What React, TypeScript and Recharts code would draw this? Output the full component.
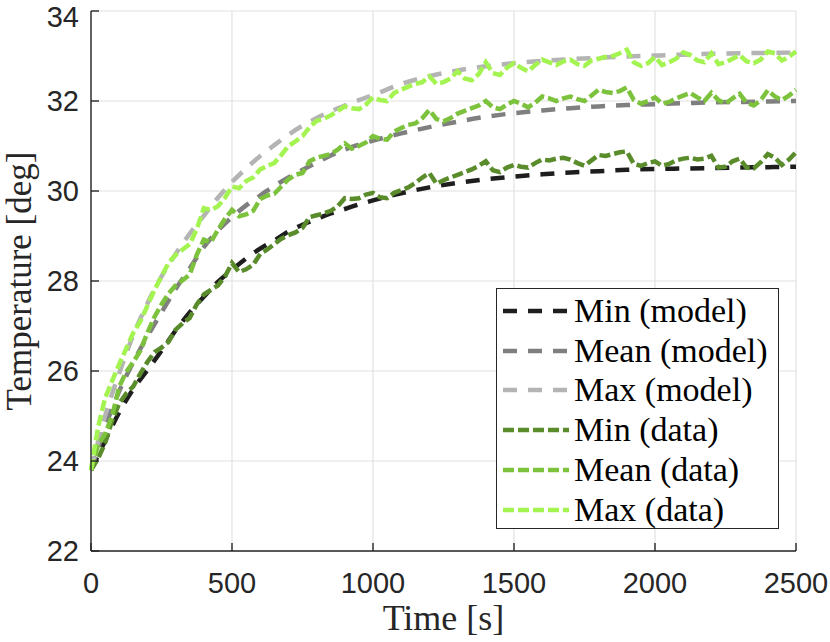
import { CartesianGrid, Label, Legend, Line, LineChart, XAxis, YAxis } from "recharts"

// model curves (smooth), sampled coarser
const modelTime = [0, 50, 100, 150, 200, 250, 300, 350, 400, 450, 500, 550, 600, 650, 700, 750, 800, 850, 900, 950, 1000,
  1100, 1200, 1300, 1400, 1500, 1600, 1700, 1800, 1900, 2000, 2100, 2200, 2300, 2400, 2500]
const minModel = [23.8, 24.45, 25.08, 25.6, 26.02, 26.45, 26.9, 27.3, 27.65, 27.98, 28.25, 28.5, 28.72, 28.9, 29.1, 29.25, 29.38, 29.5, 29.6, 29.7, 29.79,
  29.95, 30.08, 30.18, 30.26, 30.32, 30.37, 30.41, 30.44, 30.47, 30.49, 30.5, 30.51, 30.52, 30.53, 30.54]
const meanModel = [23.8, 24.75, 25.55, 26.2, 26.77, 27.3, 27.82, 28.28, 28.75, 29.12, 29.42, 29.68, 29.9, 30.11, 30.3, 30.47, 30.63, 30.79, 30.92, 31.03, 31.12,
  31.28, 31.42, 31.54, 31.65, 31.73, 31.79, 31.84, 31.88, 31.91, 31.93, 31.95, 31.97, 31.98, 31.99, 32.0]
const maxModel = [23.8, 25.0, 25.95, 26.8, 27.5, 28.1, 28.6, 29.05, 29.45, 29.85, 30.2, 30.5, 30.78, 31.02, 31.25, 31.45, 31.62, 31.77, 31.9, 32.02, 32.13,
  32.38, 32.55, 32.68, 32.77, 32.84, 32.89, 32.93, 32.96, 32.99, 33.01, 33.03, 33.05, 33.06, 33.07, 33.08]

// measured data, every 25 s
const dataTime = [0, 25, 50, 75, 100, 125, 150, 175, 200, 225, 250, 275, 300, 325, 350, 375, 400, 425, 450, 475,
  500, 525, 550, 575, 600, 625, 650, 675, 700, 725, 750, 775, 800, 825, 850, 875, 900, 925, 950, 975,
  1000, 1025, 1050, 1075, 1100, 1125, 1150, 1175, 1200, 1225, 1250, 1275, 1300, 1325, 1350, 1375, 1400, 1425, 1450, 1475,
  1500, 1525, 1550, 1575, 1600, 1625, 1650, 1675, 1700, 1725, 1750, 1775, 1800, 1825, 1850, 1875, 1900, 1925, 1950, 1975,
  2000, 2025, 2050, 2075, 2100, 2125, 2150, 2175, 2200, 2225, 2250, 2275, 2300, 2325, 2350, 2375, 2400, 2425, 2450, 2475, 2500]
const minData = [23.8, 24.05, 24.4, 24.9, 25.28, 25.5, 25.66, 25.94, 26.2, 26.42, 26.52, 26.65, 26.92, 27.06, 27.18, 27.48, 27.7, 27.8, 27.9, 28.1,
  28.4, 28.2, 28.26, 28.36, 28.6, 28.7, 28.82, 28.94, 29.02, 29.08, 29.18, 29.42, 29.46, 29.5, 29.56, 29.66, 29.84, 29.82, 29.84, 29.92,
  29.96, 29.86, 29.84, 29.96, 30.02, 30.08, 30.18, 30.3, 30.4, 30.16, 30.24, 30.3, 30.36, 30.42, 30.48, 30.56, 30.66, 30.46, 30.42, 30.52,
  30.58, 30.54, 30.52, 30.62, 30.7, 30.68, 30.72, 30.74, 30.7, 30.62, 30.56, 30.68, 30.8, 30.78, 30.82, 30.86, 30.88, 30.6, 30.56, 30.62,
  30.66, 30.56, 30.6, 30.68, 30.72, 30.74, 30.7, 30.72, 30.78, 30.52, 30.54, 30.66, 30.72, 30.52, 30.5, 30.64, 30.82, 30.74, 30.58, 30.7, 30.86]
const meanData = [23.8, 24.35, 24.6, 25.0, 25.65, 25.98, 26.2, 26.45, 26.85, 27.2, 27.48, 27.72, 27.9, 28.02, 28.14, 28.58, 28.92, 28.86, 29.14, 29.38,
  29.58, 29.44, 29.48, 29.56, 29.82, 29.9, 29.94, 30.1, 30.26, 30.36, 30.4, 30.66, 30.74, 30.78, 30.82, 30.92, 31.06, 30.94, 31.0, 31.08,
  31.22, 31.16, 31.14, 31.32, 31.4, 31.47, 31.5, 31.62, 31.8, 31.6, 31.55, 31.62, 31.72, 31.78, 31.84, 31.9, 32.0, 31.86, 31.82, 31.92,
  32.0, 31.94, 31.86, 31.96, 32.1, 32.06, 32.0, 32.06, 32.1, 32.04, 32.0, 32.12, 32.25, 32.2, 32.18, 32.22, 32.3, 32.02, 31.94, 32.0,
  32.08, 31.94, 31.98, 32.06, 32.12, 32.18, 32.08, 32.0, 32.18, 32.02, 31.94, 32.06, 32.16, 31.96, 31.9, 32.02, 32.24, 32.1, 32.02, 32.12, 32.25]
const maxData = [23.8, 24.75, 25.4, 25.78, 26.15, 26.5, 26.85, 27.1, 27.45, 27.8, 28.1, 28.4, 28.58, 28.7, 28.82, 29.15, 29.62, 29.58, 29.66, 29.85,
  30.1, 30.06, 30.22, 30.3, 30.48, 30.56, 30.62, 30.8, 31.0, 31.1, 31.22, 31.42, 31.56, 31.6, 31.68, 31.78, 31.88, 31.84, 31.82, 31.92,
  32.08, 32.02, 32.0, 32.18, 32.25, 32.32, 32.38, 32.42, 32.55, 32.38, 32.42, 32.5, 32.66, 32.5, 32.46, 32.6, 32.86, 32.62, 32.58, 32.74,
  32.84, 32.74, 32.66, 32.8, 32.92, 32.86, 32.8, 32.88, 32.92, 32.82, 32.78, 32.9, 32.94, 32.98, 33.0, 33.06, 33.14, 32.86, 32.78, 32.84,
  32.98, 32.8, 32.86, 32.94, 33.08, 33.02, 32.9, 32.86, 33.06, 32.82, 32.86, 32.94, 33.02, 32.88, 32.84, 32.92, 33.1, 33.06, 32.9, 32.98, 33.1]

const xTicks = [0, 500, 1000, 1500, 2000, 2500]
const yTicks = [22, 24, 26, 28, 30, 32, 34]

const modelRows = modelTime.map((t, i) => ({ t, minModel: minModel[i], meanModel: meanModel[i], maxModel: maxModel[i] }))
const dataRows = dataTime.map((t, i) => ({ t, minData: minData[i], meanData: meanData[i], maxData: maxData[i] }))

const MODEL_DASH = "14 11"
const DATA_DASH = "11 4"

const series = [
  { key: "minModel", name: "Min (model)", color: "#1e1e1e", dash: MODEL_DASH, rows: modelRows, type: "monotone" },
  { key: "meanModel", name: "Mean (model)", color: "#7f7f7f", dash: MODEL_DASH, rows: modelRows, type: "monotone" },
  { key: "maxModel", name: "Max (model)", color: "#b4b4b4", dash: MODEL_DASH, rows: modelRows, type: "monotone" },
  { key: "minData", name: "Min (data)", color: "#5a8c2c", dash: DATA_DASH, rows: dataRows, type: "linear" },
  { key: "meanData", name: "Mean (data)", color: "#7dc23d", dash: DATA_DASH, rows: dataRows, type: "linear" },
  { key: "maxData", name: "Max (data)", color: "#a3f450", dash: DATA_DASH, rows: dataRows, type: "linear" },
] as const

const AXIS = "#262626"
const SANS = "'Liberation Sans', Arial, sans-serif"
const SERIF = "'Liberation Serif', 'Times New Roman', serif"

const LegendBox = () => (
  <div
    style={{
      boxSizing: "border-box",
      width: 283,
      height: 241,
      border: `1.3px solid ${AXIS}`,
      background: "#fff",
      paddingTop: 2,
    }}
  >
    {series.map((s) => (
      <div key={s.key} style={{ height: 39.8, display: "flex", alignItems: "center" }}>
        <svg width={72} height={10} style={{ marginLeft: 5, flex: "none" }}>
          <line x1={1} x2={67} y1={5} y2={5} stroke={s.color} strokeWidth={4.5} strokeDasharray={s.dash} />
        </svg>
        <span style={{ fontFamily: SERIF, fontSize: 34, lineHeight: 1, color: "#000", whiteSpace: "nowrap" }}>
          {s.name}
        </span>
      </div>
    ))}
  </div>
)

const App = () => {
  return (
    <div style={{ position: "absolute", left: 0, top: 0, width: 830, height: 642, background: "#fff" }}>
      <LineChart width={830} height={642} margin={{ top: 11, right: 34, bottom: 0, left: 0 }}>
        <CartesianGrid stroke="#e2e2e2" strokeWidth={1.2} />
        <XAxis
          type="number"
          dataKey="t"
          domain={[0, 2500]}
          ticks={xTicks}
          height={91}
          tickSize={-8}
          tickMargin={29}
          stroke={AXIS}
          strokeWidth={1.4}
          tick={{ fontFamily: SANS, fontSize: 29, fill: AXIS }}
        >
          <Label
            value="Time [s]"
            position="insideBottom"
            offset={12}
            style={{ fontFamily: SERIF, fontSize: 36, fill: AXIS }}
          />
        </XAxis>
        <XAxis
          xAxisId="top"
          orientation="top"
          type="number"
          domain={[0, 2500]}
          ticks={xTicks}
          height={0}
          tickSize={-8}
          tick={false}
          stroke={AXIS}
          strokeWidth={1.4}
        />
        <YAxis
          type="number"
          domain={[22, 34]}
          ticks={yTicks}
          width={91}
          tickSize={-8}
          tickMargin={20}
          stroke={AXIS}
          strokeWidth={1.4}
          tick={{ fontFamily: SANS, fontSize: 29, fill: AXIS }}
        >
          <Label
            value="Temperature [deg]"
            angle={-90}
            position="insideLeft"
            offset={19}
            style={{ textAnchor: "middle", fontFamily: SERIF, fontSize: 35, fill: AXIS }}
          />
        </YAxis>
        <YAxis
          yAxisId="right"
          orientation="right"
          type="number"
          domain={[22, 34]}
          ticks={yTicks}
          width={0}
          tickSize={-8}
          tick={false}
          stroke={AXIS}
          strokeWidth={1.4}
        />
        {series.map((s) => (
          <Line
            key={s.key}
            data={s.rows as any}
            dataKey={s.key}
            name={s.name}
            type={s.type}
            stroke={s.color}
            strokeWidth={4.5}
            strokeDasharray={s.dash}
            dot={false}
            activeDot={false}
            isAnimationActive={false}
          />
        ))}
        <Legend
          layout="vertical"
          align="center"
          verticalAlign="middle"
          wrapperStyle={{ left: 496, top: 288, width: 283, height: 241 }}
          content={() => <LegendBox />}
        />
      </LineChart>
    </div>
  )
}

export default App
